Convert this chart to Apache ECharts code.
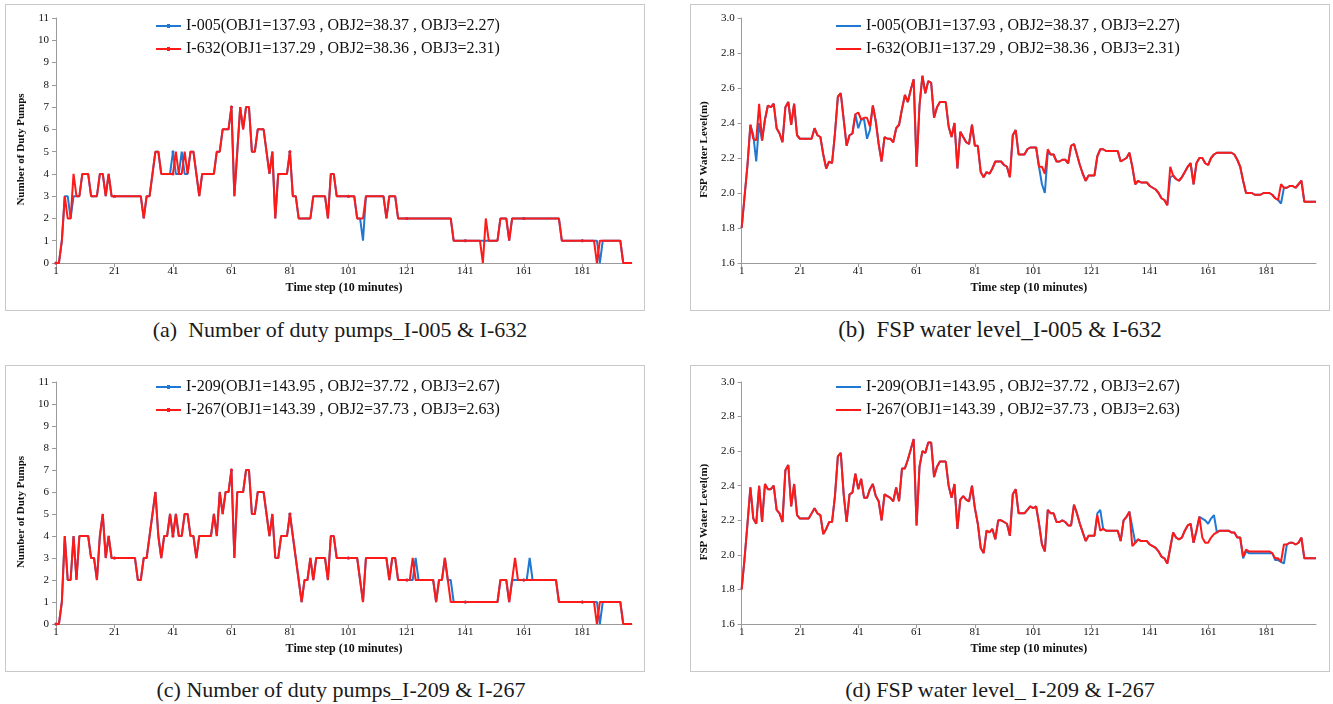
<!DOCTYPE html>
<html>
<head>
<meta charset="utf-8">
<script src="https://cdn.jsdelivr.net/npm/echarts@6/dist/echarts.min.js"></script>
<style>
    body { margin: 0; background: #fff; width: 1333px; height: 704px; position: relative; overflow: hidden; }
    .panel { position: absolute; border: 1px solid #c9c9c9; box-sizing: border-box; width: 640px; height: 307px; }
    .chart { width: 100%; height: 100%; }
    .caption { position: absolute; width: 640px; text-align: center; font-family: "Liberation Serif", "Times New Roman", serif; font-size: 22px; color: #1a1a1a; white-space: pre; }
</style>
</head>
<body>
<div class="panel" style="left:5px;top:4px"><div id="chartA" class="chart"></div></div>
<div class="panel" style="left:690px;top:4px"><div id="chartB" class="chart"></div></div>
<div class="panel" style="left:5px;top:365px"><div id="chartC" class="chart"></div></div>
<div class="panel" style="left:690px;top:365px"><div id="chartD" class="chart"></div></div>
<div class="caption" style="left:20px;top:317px">(a)  Number of duty pumps_I-005 &amp; I-632</div>
<div class="caption" style="left:680px;top:317px;font-size:23px">(b)  FSP water level_I-005 &amp; I-632</div>
<div class="caption" style="left:21px;top:677px">(c) Number of duty pumps_I-209 &amp; I-267</div>
<div class="caption" style="left:680px;top:677px">(d) FSP water level_ I-209 &amp; I-267</div>
<script>
// time steps 1..198 (10 minute intervals)
const steps = [];
for (let i = 1; i <= 198; i++) steps.push(String(i));

const namesTop = ["I-005(OBJ1=137.93 , OBJ2=38.37 , OBJ3=2.27)", "I-632(OBJ1=137.29 , OBJ2=38.36 , OBJ3=2.31)"];
const namesBottom = ["I-209(OBJ1=143.95 , OBJ2=37.72 , OBJ3=2.67)", "I-267(OBJ1=143.39 , OBJ2=37.73 , OBJ3=2.63)"];

// (a) number of duty pumps
const pumpsI005 = [
    0,0,1,3,3,2,3,3,3,4, 4,4,3,3,3,4,4,3,4,3,
    3,3,3,3,3,3,3,3,3,3, 2,3,3,4,5,5,4,4,4,4,
    5,4,4,5,4,4,5,5,4,3, 4,4,4,4,4,5,5,6,6,6,
    7,3,5,7,6,7,7,5,5,6, 6,6,5,4,5,2,4,4,4,4,
    5,3,3,2,2,2,2,2,3,3, 3,3,3,2,4,4,3,3,3,3,
    3,3,3,2,2,1,3,3,3,3, 3,3,3,2,3,3,3,2,2,2,
    2,2,2,2,2,2,2,2,2,2, 2,2,2,2,2,2,1,1,1,1,
    1,1,1,1,1,1,1,1,1,1, 1,1,2,2,2,1,2,2,2,2,
    2,2,2,2,2,2,2,2,2,2, 2,2,2,1,1,1,1,1,1,1,
    1,1,1,1,1,1,0,1,1,1, 1,1,1,1,0,0,0,0
];
const pumpsI632 = [
    0,0,1,3,2,2,4,3,3,4, 4,4,3,3,3,4,4,3,4,3,
    3,3,3,3,3,3,3,3,3,3, 2,3,3,4,5,5,4,4,4,4,
    4,5,4,4,5,4,5,5,4,3, 4,4,4,4,4,5,5,6,6,6,
    7,3,5,7,6,7,7,5,5,6, 6,6,5,4,5,2,4,4,4,4,
    5,3,3,2,2,2,2,2,3,3, 3,3,3,2,4,4,3,3,3,3,
    3,3,3,2,2,2,3,3,3,3, 3,3,3,2,3,3,3,2,2,2,
    2,2,2,2,2,2,2,2,2,2, 2,2,2,2,2,2,1,1,1,1,
    1,1,1,1,1,1,0,2,1,1, 1,1,2,2,2,1,2,2,2,2,
    2,2,2,2,2,2,2,2,2,2, 2,2,2,1,1,1,1,1,1,1,
    1,1,1,1,1,0,1,1,1,1, 1,1,1,1,0,0,0,0
];

// (b) FSP water level (m)
const levelI005 = [
    1.80,1.98,2.16,2.39,2.33,2.18,2.40,2.30,2.42,2.50, 2.49,2.51,2.37,2.34,2.29,2.49,2.52,2.39,2.51,2.33,
    2.31,2.31,2.31,2.31,2.31,2.37,2.33,2.32,2.22,2.14, 2.18,2.17,2.34,2.55,2.57,2.42,2.27,2.33,2.34,2.45,
    2.37,2.42,2.42,2.31,2.36,2.50,2.41,2.28,2.18,2.32, 2.31,2.31,2.29,2.37,2.39,2.48,2.56,2.52,2.59,2.65,
    2.15,2.50,2.67,2.57,2.64,2.63,2.43,2.49,2.52,2.52, 2.52,2.38,2.32,2.40,2.14,2.35,2.32,2.29,2.28,2.39,
    2.27,2.27,2.12,2.09,2.12,2.11,2.14,2.18,2.18,2.18, 2.16,2.15,2.09,2.33,2.36,2.22,2.22,2.22,2.25,2.26,
    2.26,2.26,2.15,2.05,2.00,2.23,2.22,2.22,2.18,2.18, 2.19,2.19,2.17,2.27,2.28,2.22,2.16,2.11,2.07,2.10,
    2.10,2.10,2.21,2.25,2.25,2.24,2.24,2.24,2.24,2.24, 2.18,2.19,2.20,2.23,2.15,2.05,2.07,2.06,2.06,2.06,
    2.04,2.03,2.02,2.00,1.97,1.96,1.93,2.09,2.10,2.08, 2.07,2.09,2.12,2.15,2.17,2.05,2.17,2.20,2.20,2.17,
    2.16,2.20,2.22,2.23,2.23,2.23,2.23,2.23,2.23,2.22, 2.19,2.15,2.07,2.00,2.00,2.00,1.99,1.99,1.99,2.00,
    2.00,2.00,1.99,1.97,1.96,1.94,2.03,2.03,2.04,2.04, 2.03,2.05,2.07,1.95,1.95,1.95,1.95,1.95
];
const levelI632 = [
    1.80,1.98,2.16,2.39,2.31,2.30,2.51,2.30,2.42,2.50, 2.49,2.51,2.37,2.34,2.29,2.49,2.52,2.39,2.51,2.33,
    2.31,2.31,2.31,2.31,2.31,2.37,2.33,2.32,2.22,2.14, 2.18,2.17,2.34,2.55,2.57,2.42,2.27,2.33,2.34,2.45,
    2.46,2.42,2.43,2.43,2.38,2.50,2.41,2.28,2.18,2.32, 2.31,2.31,2.29,2.37,2.39,2.48,2.56,2.52,2.59,2.65,
    2.15,2.50,2.67,2.57,2.64,2.63,2.43,2.49,2.52,2.52, 2.52,2.38,2.32,2.40,2.14,2.35,2.32,2.29,2.28,2.39,
    2.27,2.27,2.12,2.09,2.12,2.11,2.14,2.18,2.18,2.18, 2.16,2.15,2.09,2.33,2.36,2.22,2.22,2.22,2.25,2.26,
    2.26,2.26,2.15,2.15,2.11,2.25,2.22,2.22,2.18,2.18, 2.19,2.19,2.17,2.27,2.28,2.22,2.16,2.11,2.07,2.10,
    2.10,2.10,2.21,2.25,2.25,2.24,2.24,2.24,2.24,2.24, 2.18,2.19,2.20,2.23,2.15,2.05,2.07,2.06,2.06,2.06,
    2.04,2.03,2.02,2.00,1.97,1.96,1.93,2.15,2.10,2.08, 2.07,2.09,2.12,2.15,2.17,2.05,2.17,2.20,2.20,2.17,
    2.16,2.20,2.22,2.23,2.23,2.23,2.23,2.23,2.23,2.22, 2.19,2.15,2.07,2.00,2.00,2.00,1.99,1.99,1.99,2.00,
    2.00,2.00,1.99,1.97,1.96,2.05,2.03,2.03,2.04,2.04, 2.03,2.05,2.07,1.95,1.95,1.95,1.95,1.95
];

// (c) number of duty pumps
const pumpsI209 = [
    0,0,1,4,2,2,4,2,4,4, 4,4,3,3,2,4,5,3,4,3,
    3,3,3,3,3,3,3,3,2,2, 3,3,4,5,6,4,3,4,4,5,
    4,5,4,4,5,5,4,4,3,4, 4,4,4,4,5,4,6,5,6,6,
    7,3,6,6,6,7,7,5,5,6, 6,6,5,4,5,3,3,4,4,4,
    5,4,3,2,1,2,2,3,2,3, 3,3,3,2,4,4,3,3,3,3,
    3,3,3,3,2,1,3,3,3,3, 3,3,3,3,2,3,3,2,2,2,
    2,2,2,3,2,2,2,2,2,2, 1,2,2,3,2,2,1,1,1,1,
    1,1,1,1,1,1,1,1,1,1, 1,1,2,2,2,1,2,2,2,2,
    2,2,3,2,2,2,2,2,2,2, 2,2,1,1,1,1,1,1,1,1,
    1,1,1,1,1,1,0,1,1,1, 1,1,1,1,0,0,0,0
];
const pumpsI267 = [
    0,0,1,4,2,2,4,2,4,4, 4,4,3,3,2,4,5,3,4,3,
    3,3,3,3,3,3,3,3,2,2, 3,3,4,5,6,4,3,4,4,5,
    4,5,4,4,5,5,4,4,3,4, 4,4,4,4,5,4,6,5,6,6,
    7,3,6,6,6,7,7,5,5,6, 6,6,5,4,5,3,3,4,4,4,
    5,4,3,2,1,2,2,3,2,3, 3,3,3,2,4,4,3,3,3,3,
    3,3,3,3,2,1,3,3,3,3, 3,3,3,3,2,3,3,2,2,2,
    2,2,3,2,2,2,2,2,2,2, 1,2,2,3,2,1,1,1,1,1,
    1,1,1,1,1,1,1,1,1,1, 1,1,2,2,2,1,2,3,2,2,
    2,2,2,2,2,2,2,2,2,2, 2,2,1,1,1,1,1,1,1,1,
    1,1,1,1,1,0,1,1,1,1, 1,1,1,1,0,0,0,0
];

// (d) FSP water level (m)
const levelI209 = [
    1.80,1.98,2.18,2.39,2.21,2.18,2.40,2.19,2.41,2.38, 2.38,2.40,2.26,2.24,2.19,2.49,2.52,2.28,2.41,2.23,
    2.21,2.21,2.21,2.21,2.24,2.27,2.24,2.23,2.12,2.15, 2.19,2.19,2.34,2.57,2.59,2.35,2.19,2.35,2.36,2.47,
    2.38,2.44,2.33,2.33,2.38,2.41,2.34,2.31,2.20,2.35, 2.34,2.33,2.31,2.39,2.31,2.50,2.50,2.55,2.61,2.67,
    2.17,2.51,2.60,2.59,2.65,2.65,2.45,2.51,2.54,2.54, 2.54,2.40,2.33,2.41,2.15,2.32,2.34,2.32,2.31,2.40,
    2.27,2.18,2.04,2.01,2.14,2.13,2.15,2.09,2.20,2.20, 2.19,2.18,2.11,2.35,2.38,2.24,2.24,2.24,2.26,2.28,
    2.27,2.28,2.18,2.06,2.02,2.26,2.24,2.24,2.19,2.19, 2.20,2.19,2.17,2.17,2.29,2.24,2.18,2.13,2.08,2.11,
    2.11,2.11,2.24,2.26,2.15,2.14,2.14,2.14,2.14,2.14, 2.08,2.20,2.22,2.25,2.16,2.07,2.09,2.08,2.08,2.08,
    2.06,2.05,2.04,2.02,1.99,1.98,1.95,2.04,2.13,2.10, 2.09,2.10,2.14,2.17,2.18,2.07,2.14,2.22,2.21,2.20,
    2.18,2.21,2.23,2.13,2.14,2.14,2.14,2.14,2.13,2.13, 2.10,2.10,1.98,2.02,2.01,2.01,2.01,2.01,2.01,2.01,
    2.01,2.01,2.01,1.97,1.97,1.96,1.95,2.06,2.07,2.07, 2.06,2.07,2.10,1.98,1.98,1.98,1.98,1.98
];
const levelI267 = [
    1.80,1.98,2.18,2.39,2.21,2.18,2.40,2.19,2.41,2.38, 2.38,2.40,2.26,2.24,2.19,2.49,2.52,2.28,2.41,2.23,
    2.21,2.21,2.21,2.21,2.24,2.27,2.24,2.23,2.12,2.15, 2.19,2.19,2.34,2.57,2.59,2.35,2.19,2.35,2.36,2.47,
    2.38,2.44,2.33,2.33,2.38,2.41,2.34,2.31,2.20,2.35, 2.34,2.33,2.31,2.39,2.31,2.50,2.50,2.55,2.61,2.67,
    2.17,2.51,2.60,2.59,2.65,2.65,2.45,2.51,2.54,2.54, 2.54,2.40,2.33,2.41,2.15,2.32,2.34,2.32,2.31,2.40,
    2.27,2.18,2.04,2.01,2.14,2.13,2.15,2.09,2.20,2.20, 2.19,2.18,2.11,2.35,2.38,2.24,2.24,2.24,2.26,2.28,
    2.27,2.28,2.18,2.06,2.02,2.26,2.24,2.24,2.19,2.19, 2.20,2.19,2.17,2.17,2.29,2.24,2.18,2.13,2.08,2.11,
    2.11,2.11,2.23,2.14,2.15,2.14,2.14,2.14,2.14,2.14, 2.08,2.20,2.22,2.25,2.05,2.07,2.09,2.08,2.08,2.08,
    2.06,2.05,2.04,2.02,1.99,1.98,1.95,2.04,2.13,2.10, 2.09,2.10,2.14,2.17,2.18,2.07,2.14,2.22,2.10,2.07,
    2.07,2.10,2.12,2.13,2.14,2.14,2.14,2.14,2.13,2.13, 2.10,2.10,1.99,2.03,2.02,2.02,2.02,2.02,2.02,2.02,
    2.02,2.02,2.01,1.98,1.98,1.96,2.06,2.06,2.07,2.07, 2.06,2.07,2.10,1.98,1.98,1.98,1.98,1.98
];

const chartFont = '"Liberation Serif", "Times New Roman", serif';
const blueColor = "#1f78d1";
const redColor = "#ff1a1a";
const axisGray = "#9a9a9a";

// legend glyphs: a 2px line, with a small dot for the marker charts
const iconLineDot = "path://M0,3L11,3L11,2L14,2L14,3L25,3L25,5L14,5L14,6L11,6L11,5L0,5Z";
const iconLine = "path://M0,0L25,0L25,2L0,2Z";

function buildOption(p) {
    const lineSeries = (name, data, color) => ({
        name: name,
        type: "line",
        data: data,
        symbol: p.markers ? "circle" : "none",
        symbolSize: 3,
        showSymbol: p.markers,
        lineStyle: { color: color, width: 2 },
        itemStyle: { color: color },
        emphasis: { disabled: true },
    });
    return {
        animation: false,
        textStyle: { fontFamily: chartFont },
        legend: {
            orient: "vertical",
            left: p.legendLeft,
            top: p.legendTop,
            padding: 0,
            icon: p.markers ? iconLineDot : iconLine,
            itemWidth: 25,
            itemHeight: p.markers ? 4 : 2,
            itemGap: 7,
            textStyle: { fontFamily: chartFont, fontSize: 16, color: "#111", lineHeight: 14, padding: [0, 0, 0, 0] },
            data: [p.names[0], p.names[1]],
        },
        grid: { left: p.grid[0], top: p.grid[1], right: p.grid[2], bottom: p.grid[3] },
        xAxis: {
            type: "category",
            data: steps,
            boundaryGap: false,
            name: "Time step (10 minutes)",
            nameLocation: "middle",
            nameGap: 15,
            nameTextStyle: { fontFamily: chartFont, fontWeight: "bold", fontSize: 12, color: "#111" },
            axisLine: { lineStyle: { color: axisGray } },
            axisTick: { interval: 19, length: 4, lineStyle: { color: axisGray } },
            axisLabel: { interval: 19, fontSize: 11, color: "#111", margin: 3 },
            splitLine: { show: false },
        },
        yAxis: {
            type: "value",
            min: p.yMin,
            max: p.yMax,
            interval: p.yStep,
            name: p.yName,
            nameLocation: "middle",
            nameGap: p.yNameGap,
            // right padding nudges the rotated title a little below the axis centre
            nameTextStyle: { fontFamily: chartFont, fontWeight: "bold", fontSize: 11, color: "#111", padding: [0, 18, 0, 0] },
            axisLine: { show: true, lineStyle: { color: axisGray } },
            axisTick: { show: true, length: 4, lineStyle: { color: axisGray } },
            axisLabel: { fontSize: 11, color: "#111", margin: 7, formatter: p.yFmt },
            splitLine: { show: false },
        },
        series: [lineSeries(p.names[0], p.blue, blueColor), lineSeries(p.names[1], p.red, redColor)],
    };
}

const pumpAxis = { yMin: 0, yMax: 11, yStep: 1, yName: "Number of Duty Pumps", yNameGap: 18, yFmt: (v) => String(v), markers: true };
const levelAxis = { yMin: 1.6, yMax: 3.0, yStep: 0.2, yName: "FSP Water Level(m)", yNameGap: 23, yFmt: (v) => Number(v).toFixed(1), markers: false };

const panels = [
    { id: "chartA", ...pumpAxis, names: namesTop, blue: pumpsI005, red: pumpsI632, grid: [50, 13, 12, 47], legendLeft: 150, legendTop: 13 },
    { id: "chartB", ...levelAxis, names: namesTop, blue: levelI005, red: levelI632, grid: [50, 13, 13, 47], legendLeft: 145, legendTop: 13 },
    { id: "chartC", ...pumpAxis, names: namesBottom, blue: pumpsI209, red: pumpsI267, grid: [50, 16, 12, 47], legendLeft: 150, legendTop: 13 },
    { id: "chartD", ...levelAxis, names: namesBottom, blue: levelI209, red: levelI267, grid: [50, 16, 13, 47], legendLeft: 145, legendTop: 13 },
];

panels.forEach((p) => {
    const chart = echarts.init(document.getElementById(p.id), undefined, { renderer: "canvas" });
    chart.setOption(buildOption(p));
});
</script>
</body>
</html>
